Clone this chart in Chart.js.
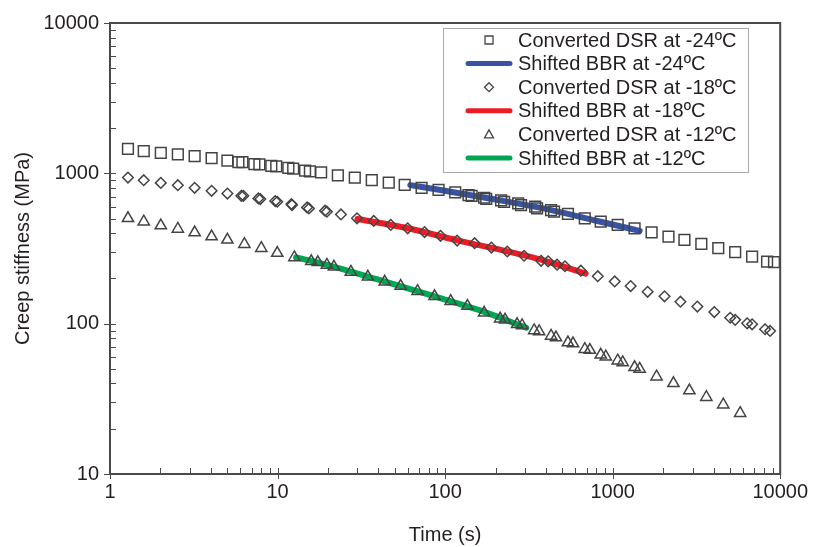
<!DOCTYPE html>
<html>
<head>
<meta charset="utf-8">
<script src="https://cdn.jsdelivr.net/npm/chart.js@4.4.1/dist/chart.umd.min.js"></script>
<style>
  html, body { margin: 0; padding: 0; background: #fff; }
  #wrap { width: 814px; height: 547px; }
</style>
</head>
<body>
<div id="wrap"><canvas id="creepChart" width="814" height="547"></canvas></div>
<script>
// Converted DSR master curve at -24ºC
const dsr24Time = [1.28, 1.59, 2.01, 2.54, 3.20, 4.04, 5.02, 5.84, 6.17, 7.27, 7.79, 9.18, 9.82, 11.6, 12.4, 14.6, 15.6, 18.2,
  22.9, 28.9, 36.5, 46.1, 57.4, 72.4, 91.4, 115, 138, 144, 171, 176, 216, 225, 273, 284, 345, 354, 429, 447, 541,
  682, 849, 1072, 1352, 1708, 2154, 2682, 3383, 4270, 5387, 6797, 8351, 9187];
const dsr24Stiff = [1456, 1406, 1370, 1337, 1303, 1264, 1213, 1189, 1189, 1153, 1148, 1119, 1114, 1086, 1075, 1042, 1032, 1016,
  971, 937, 900, 868, 838, 801, 777, 746, 716, 709, 688, 675, 660, 647, 631, 615, 600, 585, 570, 556, 537,
  502, 477, 454, 431, 405, 380, 361, 340, 318, 299, 279, 259, 257];

// Converted DSR master curve at -18ºC
const dsr18Time = [1.28, 1.59, 2.01, 2.54, 3.20, 4.04, 5.02, 6.08, 6.25, 7.68, 7.89, 9.69, 9.96, 12.1, 12.2, 15.0, 15.4, 19.2, 19.7,
  23.9, 29.8, 37.5, 47.4, 59.8, 75.4, 93.9, 118, 150, 189, 235, 296, 374, 412, 466, 519,
  646, 815, 1029, 1281, 1617, 2040, 2539, 3203, 4043, 5031, 5387, 6349, 6797, 8124, 8700];
const dsr18Stiff = [937, 900, 864, 834, 801, 765, 734, 709, 709, 681, 674, 654, 647, 625, 615, 593, 584, 564, 556,
  533, 502, 482, 454, 431, 407, 384, 357, 343, 321, 302, 283, 262, 260, 247, 241,
  225, 207, 191, 178, 163, 152, 140, 130, 119.5, 109.5, 106, 100.6, 99, 91.8, 89.5];

// Converted DSR master curve at -12ºC
const dsr12Time = [1.28, 1.59, 2.01, 2.54, 3.20, 4.04, 5.02, 6.34, 8.00, 9.96, 12.6, 15.9, 17.4, 19.7, 21.7,
  27.4, 34.6, 43.6, 54.3, 68.5, 86.5, 108, 136, 171, 213, 228, 269, 288, 340, 364, 429, 459, 541, 580,
  682, 731, 849, 910, 1072, 1148, 1352, 1449, 1828, 2307, 2871, 3624, 4573, 5768];
const dsr12Stiff = [502, 477, 449, 427, 404, 380, 361, 338, 318, 295, 276, 260, 256, 246, 239,
  221, 205, 190, 178, 164.5, 152, 141, 131, 118, 108, 106, 99, 97.3, 90.2, 88.8, 82.9, 80.8, 74.9, 73.8,
  67.7, 66.7, 62.1, 60.3, 56.7, 55.2, 51.2, 50.0, 44.4, 40.1, 35.9, 32.4, 28.9, 25.4];

// Shifted BBR curves
const bbr24Time = [62, 100, 200, 400, 800, 1450];
const bbr24Stiff = [835, 765, 670, 580, 484, 414];
const bbr18Time = [30, 60, 120, 240, 400, 690];
const bbr18Stiff = [497, 431, 357, 301, 261, 215];
const bbr12Time = [12.9, 20, 40, 80, 160, 305];
const bbr12Stiff = [276, 245, 196, 156, 123, 94];

// Axis ticks
const majorTicks = [1, 10, 100, 1000, 10000];
const yMajorTicks = [10, 100, 1000, 10000];

const textColor = '#231f20';
const axisColor = '#4a4a4a';
const fontFamily = '"Liberation Sans", Arial, Helvetica, sans-serif';

function toPoints(xs, ys) {
    return xs.map((x, i) => ({ x: x, y: ys[i] }));
}

function markerSet(label, xs, ys, style, radius) {
    return {
        label: label,
        data: toPoints(xs, ys),
        showLine: false,
        pointStyle: style,
        pointRadius: radius,
        pointBorderWidth: 1.5,
        borderColor: '#444',
        backgroundColor: 'rgba(0,0,0,0)',
        order: 0
    };
}

function bbrSet(label, xs, ys, color) {
    return {
        label: label,
        data: toPoints(xs, ys),
        showLine: true,
        pointRadius: 0,
        borderColor: color,
        backgroundColor: color,
        borderWidth: 6,
        borderCapStyle: 'round',
        cubicInterpolationMode: 'monotone',
        order: 1
    };
}

// Draw the frame and the log ticks (minor ticks inside, major ticks crossing)
const frameAndTicks = {
    id: 'frameAndTicks',
    afterDatasetsDraw(chart) {
        const { ctx, chartArea: a, scales: { x, y } } = chart;
        ctx.save();
        ctx.strokeStyle = axisColor;
        ctx.lineWidth = 1;
        ctx.beginPath();
        for (let d = 1; d < 10000; d *= 10) {
            for (let k = 2; k < 10; k++) {
                const px = Math.round(x.getPixelForValue(d * k)) + 0.5;
                ctx.moveTo(px, a.bottom);
                ctx.lineTo(px, a.bottom - 6);
            }
        }
        for (let d = 10; d < 10000; d *= 10) {
            for (let k = 2; k < 10; k++) {
                const py = Math.round(y.getPixelForValue(d * k)) + 0.5;
                ctx.moveTo(a.left, py);
                ctx.lineTo(a.left + 6, py);
            }
        }
        majorTicks.forEach(v => {
            const px = Math.round(x.getPixelForValue(v)) + 0.5;
            ctx.moveTo(px, a.bottom + 5);
            ctx.lineTo(px, a.bottom - 6);
        });
        yMajorTicks.forEach(v => {
            const py = Math.round(y.getPixelForValue(v)) + 0.5;
            ctx.moveTo(a.left - 6, py);
            ctx.lineTo(a.left + 6, py);
        });
        ctx.stroke();

        ctx.lineWidth = 2;
        ctx.strokeRect(a.left, a.top, a.right - a.left, a.bottom - a.top);
        ctx.restore();
    }
};

function legendMarker(ctx, style, cx, cy) {
    ctx.beginPath();
    if (style === 'rect') {
        ctx.rect(cx - 4, cy - 4, 8, 8);
    } else if (style === 'rectRot') {
        ctx.moveTo(cx, cy - 4.5);
        ctx.lineTo(cx + 4.5, cy);
        ctx.lineTo(cx, cy + 4.5);
        ctx.lineTo(cx - 4.5, cy);
        ctx.closePath();
    } else {
        ctx.moveTo(cx, cy - 4.5);
        ctx.lineTo(cx + 4.5, cy + 3.5);
        ctx.lineTo(cx - 4.5, cy + 3.5);
        ctx.closePath();
    }
    ctx.stroke();
}

// Boxed legend inside the plot, upper right
const boxLegend = {
    id: 'boxLegend',
    afterDraw(chart) {
        const ctx = chart.ctx;
        const left = 443, top = 28, width = 305, height = 144;
        ctx.save();
        ctx.fillStyle = '#fff';
        ctx.fillRect(left, top, width, height);
        ctx.strokeStyle = '#aaa';
        ctx.lineWidth = 1;
        ctx.strokeRect(left + 0.5, top + 0.5, width, height);

        chart.data.datasets.forEach((ds, i) => {
            const cy = 40 + i * 23.6;
            if (ds.showLine) {
                ctx.strokeStyle = ds.borderColor;
                ctx.lineWidth = 5;
                ctx.lineCap = 'round';
                ctx.beginPath();
                ctx.moveTo(468, cy);
                ctx.lineTo(510, cy);
                ctx.stroke();
            } else {
                ctx.strokeStyle = '#444';
                ctx.lineWidth = 1.3;
                ctx.lineCap = 'butt';
                legendMarker(ctx, ds.pointStyle, 489, cy);
            }
            ctx.fillStyle = textColor;
            ctx.font = '20px ' + fontFamily;
            ctx.textAlign = 'left';
            ctx.textBaseline = 'middle';
            ctx.fillText(ds.label, 518, cy + 1);
        });
        ctx.restore();
    }
};

const ctx = document.getElementById('creepChart').getContext('2d');
const chart = new Chart(ctx, {
    type: 'scatter',
    data: {
        datasets: [
            markerSet('Converted DSR at -24ºC', dsr24Time, dsr24Stiff, 'rect', 7.6),
            bbrSet('Shifted BBR at -24ºC', bbr24Time, bbr24Stiff, '#3953a4'),
            markerSet('Converted DSR at -18ºC', dsr18Time, dsr18Stiff, 'rectRot', 5.3),
            bbrSet('Shifted BBR at -18ºC', bbr18Time, bbr18Stiff, '#ed1c24'),
            markerSet('Converted DSR at -12ºC', dsr12Time, dsr12Stiff, 'triangle', 6.5),
            bbrSet('Shifted BBR at -12ºC', bbr12Time, bbr12Stiff, '#00a651')
        ]
    },
    options: {
        responsive: false,
        animation: false,
        devicePixelRatio: 1,
        layout: { padding: { left: 0, right: 31, top: 20, bottom: 0 } },
        plugins: {
            legend: { display: false },
            tooltip: { enabled: false }
        },
        scales: {
            x: {
                type: 'logarithmic',
                position: 'bottom',
                min: 1,
                max: 10000,
                grid: { display: false, drawTicks: false },
                border: { display: false },
                afterBuildTicks: scale => { scale.ticks = majorTicks.map(v => ({ value: v })); },
                afterFit: scale => { scale.height = 73; },
                ticks: {
                    autoSkip: false,
                    maxRotation: 0,
                    padding: 6,
                    color: textColor,
                    font: { family: fontFamily, size: 20 },
                    callback: v => String(v)
                },
                title: {
                    display: true,
                    text: 'Time (s)',
                    color: textColor,
                    font: { family: fontFamily, size: 20 },
                    padding: { top: 0, bottom: 0 }
                }
            },
            y: {
                type: 'logarithmic',
                position: 'left',
                min: 10,
                max: 10000,
                grid: { display: false, drawTicks: false },
                border: { display: false },
                afterBuildTicks: scale => { scale.ticks = yMajorTicks.map(v => ({ value: v })); },
                afterFit: scale => { scale.width = 110; },
                ticks: {
                    autoSkip: false,
                    padding: 11,
                    color: textColor,
                    font: { family: fontFamily, size: 20 },
                    callback: v => String(v)
                },
                title: {
                    display: true,
                    text: 'Creep stiffness (MPa)',
                    color: textColor,
                    font: { family: fontFamily, size: 20 },
                    padding: { top: 11, bottom: 0 }
                }
            }
        }
    },
    plugins: [frameAndTicks, boxLegend]
});
</script>
</body>
</html>
